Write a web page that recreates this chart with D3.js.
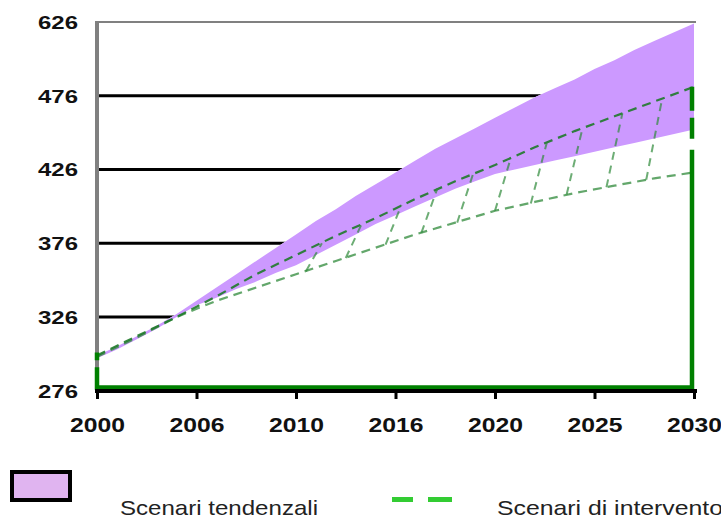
<!DOCTYPE html>
<html><head><meta charset="utf-8">
<script src="https://cdn.jsdelivr.net/npm/d3@7"></script>
<style>body{margin:0;background:#fff;} svg{display:block;}</style>
</head><body>
<svg id="c" width="721" height="518"></svg>
<script>
// ---- data ----
const bandYears = d3.range(2000, 2031);
const bandUpper = [300,306,313,320,328,337,346,355,364,373,382,391,399,408,416,424,432,440,447,454,461,468,475,481,487,494,500,507,513,519,525];
const bandLower = [298,304,311,318,326,334,339,345,350,356,361,368,375,382,389,395,401,407,413,418,423,426,429,432,435,438,441,444,447,450,453];
const intYears = [2000,2002,2004,2006,2008,2010,2012,2014,2016,2018,2020,2022,2024,2026,2028,2030];
const intUpper = [300,313,326,340,355,368,381,393,406,418,429,441,452,462,472,482];
const intLower = [299,312,326,337,346,355,364,373,382,390,398,404,410,415,420,424];
const connLowYear  = [2010.5,2012.5,2014.5,2016.3,2018.1,2020.0,2021.8,2023.6,2025.6,2027.6];
const connLowVal   = [357,366,375,383,390,398,403,409,414,419];
const connHighYear = [2011.3,2013.3,2015.3,2017.1,2018.9,2020.8,2022.6,2024.4,2026.4,2028.4];
const connHighVal  = [376,389,402,413,423,434,444,454,464,474];
const frameLeftVal = 302, frameRightVal = 482;
const xTicks = [2000,2005,2010,2015,2020,2025,2030];
const xTickLabels = ["2000","2006","2010","2016","2020","2025","2030"];
const yTicks = [276,326,376,426,476,526];
const yTickLabels = ["276","326","376","426","476","626"];
const gridVals = [326,376,426,476];
const legendLabels = ["Scenari tendenzali","Scenari di intervento"];

// ---- chart ----
const svg = d3.select("#c");
const x = d3.scaleLinear().domain([2000,2030]).range([97,694]);
const y = d3.scaleLinear().domain([276,526]).range([390.8,21.9]);
const yBottom = 387.5;

// gridlines
svg.append("g").selectAll("line").data(gridVals).join("line")
  .attr("x1", 99).attr("x2", 694)
  .attr("y1", d=>y(d)).attr("y2", d=>y(d))
  .attr("stroke","#000").attr("stroke-width",3);

// white mask under upper band edge
svg.append("path").datum(bandYears.map((t,i)=>({t, u:bandUpper[i]})))
  .attr("fill","#fff")
  .attr("d", d3.area().x(d=>x(d.t)).y0(yBottom).y1(d=>y(d.u)));

// purple band
svg.append("path").datum(bandYears.map((t,i)=>({t, u:bandUpper[i], l:bandLower[i]})))
  .attr("fill","#cc99ff")
  .attr("d", d3.area().x(d=>x(d.t)).y0(d=>y(d.l)).y1(d=>y(d.u)));

// intervention dashed lines
const ln = d3.line().x(d=>x(d[0])).y(d=>y(d[1]));
svg.append("path").datum(intYears.map((t,i)=>[t,intLower[i]]))
  .attr("fill","none").attr("stroke","#2f8a3a").attr("stroke-opacity",0.75)
  .attr("stroke-width",2.2).attr("stroke-dasharray","9,6").attr("d", ln);
svg.append("path").datum(intYears.map((t,i)=>[t,intUpper[i]]))
  .attr("fill","none").attr("stroke","#1f7a2a").attr("stroke-opacity",0.9)
  .attr("stroke-width",2.2).attr("stroke-dasharray","9,6").attr("d", ln);
svg.append("g").selectAll("line").data(connLowYear.map((t,i)=>i)).join("line")
  .attr("x1", i=>x(connLowYear[i])).attr("y1", i=>y(connLowVal[i]))
  .attr("x2", i=>x(connHighYear[i])).attr("y2", i=>y(connHighVal[i]))
  .attr("stroke","#2f8a3a").attr("stroke-opacity",0.7)
  .attr("stroke-width",2).attr("stroke-dasharray","8,6");

// top border
svg.append("line").attr("x1",95).attr("x2",696).attr("y1",22).attr("y2",22)
  .attr("stroke","#808080").attr("stroke-width",2);

// y axis
const yAxis = svg.append("g").attr("transform","translate(97,0)")
  .call(d3.axisLeft(y).tickValues(yTicks).tickSize(0).tickPadding(19)
    .tickFormat((d,i)=>yTickLabels[i]));
yAxis.select(".domain").attr("stroke","#808080").attr("stroke-width",4)
  .attr("d", `M0,${y(526)}V${yBottom+1}`);
yAxis.selectAll("text").attr("font-family","'Liberation Sans',Arial,sans-serif")
  .attr("font-weight","bold").attr("font-size",18).attr("fill","#111")
  .attr("textLength",40).attr("lengthAdjust","spacingAndGlyphs").attr("dy","0.36em");

// green frame (right side down, bottom, left side up) drawn over the axis line
const xr = 692, xl = 97;
const yr = y(frameRightVal), yl = y(frameLeftVal);
const leftLen = yBottom - yl;
const longDash = (yBottom - 150) + (xr - xl) + (yBottom - 367);
const dash = [24,7,21,11,longDash,7,Math.max(1,leftLen-(yBottom-367)-7)];
svg.append("path")
  .attr("d", `M${xr},${yr} L${xr},${yBottom} L${xl},${yBottom} L${xl},${yl}`)
  .attr("fill","none").attr("stroke","#008000").attr("stroke-width",4.5)
  .attr("stroke-dasharray", dash.join(","));

// x axis
const xAxis = svg.append("g").attr("transform","translate(0,391)")
  .call(d3.axisBottom(x).tickValues(xTicks).tickSize(8).tickSizeOuter(0)
    .tickFormat((d,i)=>xTickLabels[i]));
xAxis.select(".domain").attr("stroke","#000").attr("stroke-width",4)
  .attr("d", `M95,0H697`);
xAxis.selectAll(".tick line").attr("stroke","#000").attr("stroke-width",3);
xAxis.selectAll("text").attr("font-family","'Liberation Sans',Arial,sans-serif")
  .attr("font-weight","bold").attr("font-size",21).attr("fill","#111")
  .attr("y",41).attr("dy",0)
  .attr("textLength",55).attr("lengthAdjust","spacingAndGlyphs");

// legend
svg.append("rect").attr("x",12).attr("y",472).attr("width",58).attr("height",28)
  .attr("fill","#e0b4f0").attr("stroke","#000").attr("stroke-width",4);
svg.append("text").attr("x",120).attr("y",515).text(legendLabels[0])
  .attr("font-family","'Liberation Sans',Arial,sans-serif").attr("font-size",21)
  .attr("fill","#222").attr("textLength",198).attr("lengthAdjust","spacingAndGlyphs");
svg.append("line").attr("x1",392).attr("x2",452).attr("y1",499.5).attr("y2",499.5)
  .attr("stroke","#33cc33").attr("stroke-width",5).attr("stroke-dasharray","21,15,24");
svg.append("text").attr("x",497).attr("y",515).text(legendLabels[1])
  .attr("font-family","'Liberation Sans',Arial,sans-serif").attr("font-size",21)
  .attr("fill","#222").attr("textLength",226).attr("lengthAdjust","spacingAndGlyphs");
</script>
</body></html>
